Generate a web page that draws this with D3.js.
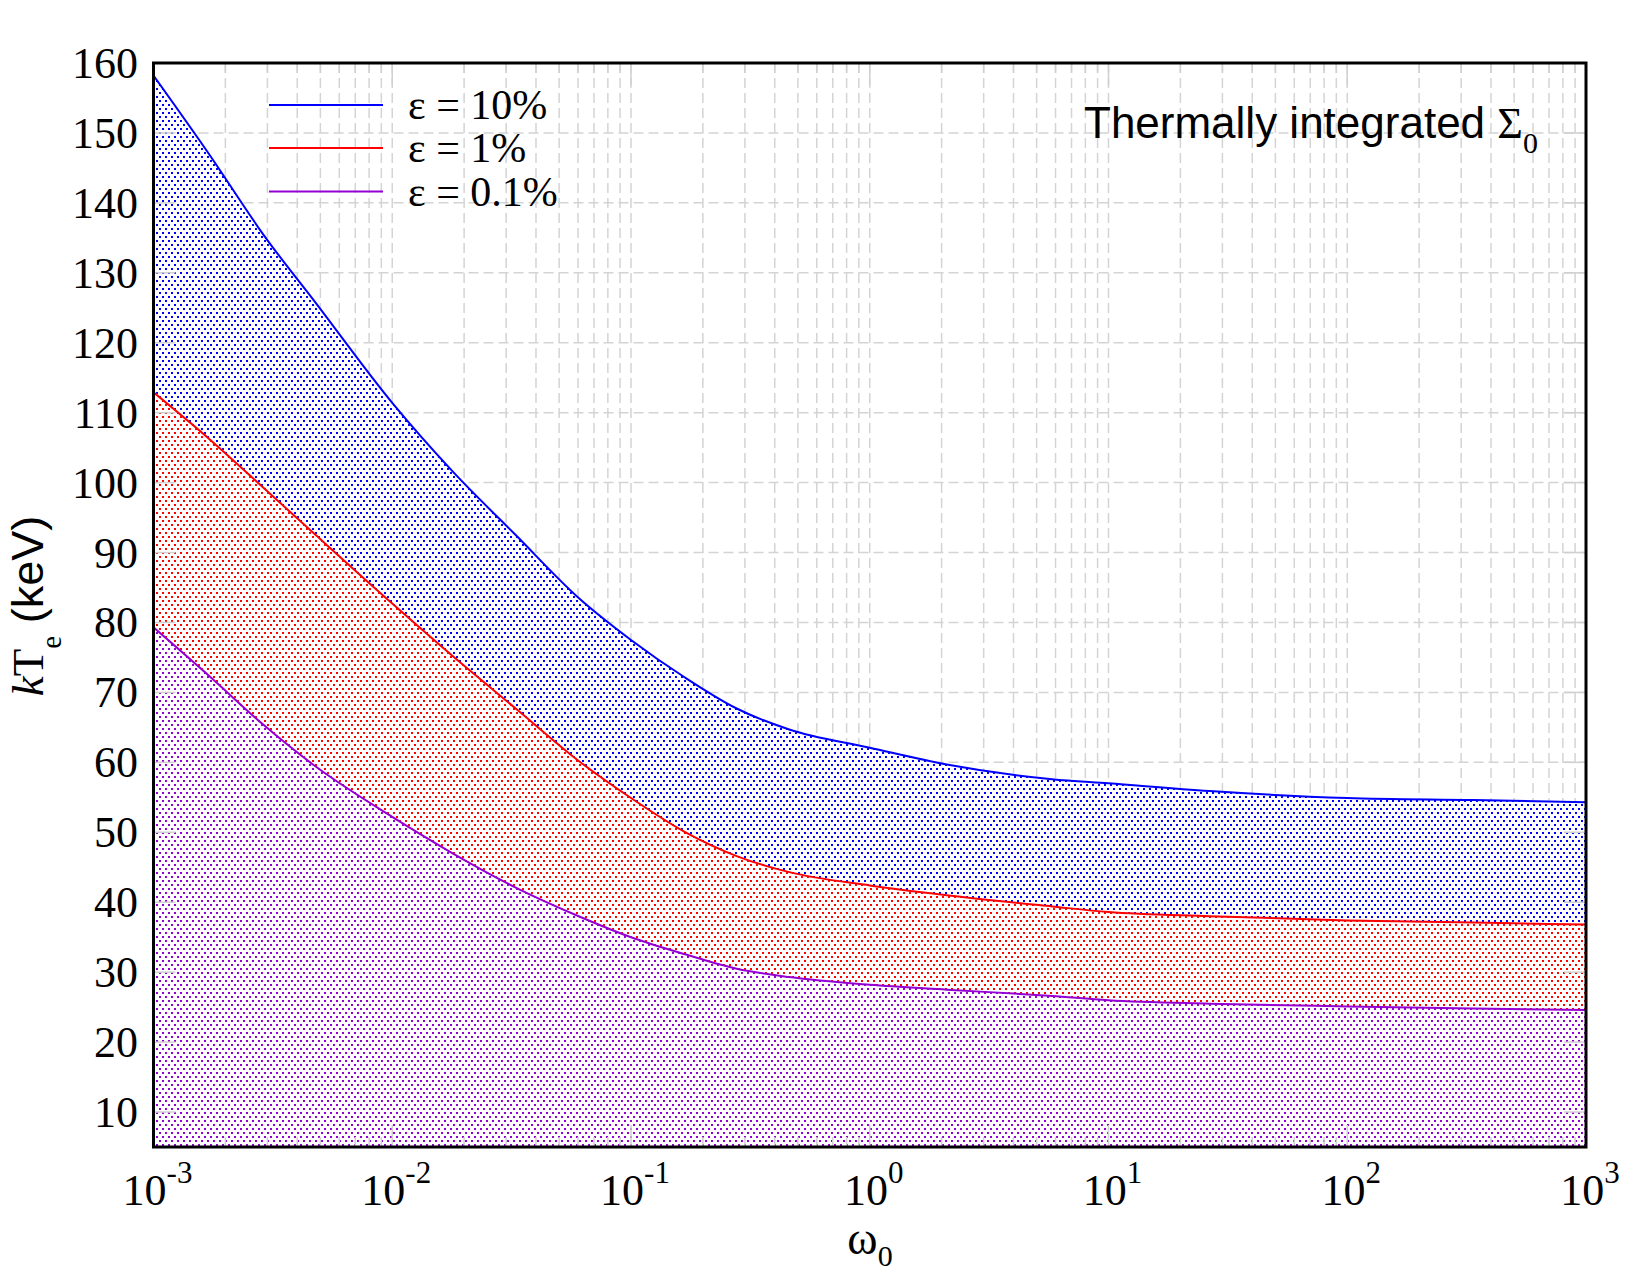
<!DOCTYPE html>
<html>
<head>
<meta charset="utf-8">
<script src="https://cdn.jsdelivr.net/npm/d3@7"></script>
<style>
  body { margin: 0; background: #fff; }
  svg { display: block; }
</style>
</head>
<body>
<div id="chart_wrapper"></div>
<script>
// omega_0 sample points and kT_e (keV)
const omega = [0.001, 0.00173, 0.00288, 0.00478, 0.01, 0.0179, 0.0329, 0.0604, 0.1, 0.167,
               0.277, 0.46, 1, 2.1, 5.8, 10, 26.5, 100, 338, 1000]
const kTe10 = [158.2, 146.7, 135.5, 125.7, 111.4, 101.6, 92.5, 83.5, 77.5, 72.2,
               67.7, 64.7, 62.1, 59.7, 57.6, 57.0, 55.9, 54.9, 54.6, 54.3]
const kTe1 = [112.9, 106.1, 99.3, 92.5, 82.7, 75.2, 67.7, 60.2, 54.9, 50.1,
              46.6, 44.3, 42.4, 41.0, 39.4, 38.6, 38.0, 37.4, 37.1, 36.8]
const kTe01 = [79.3, 72.2, 65.4, 59.4, 52.2, 47.0, 42.1, 38.0, 35.0, 32.6,
               30.5, 29.3, 28.2, 27.5, 26.6, 26.0, 25.5, 25.1, 24.8, 24.6]

const seriesNames = ['ε = 10%', 'ε = 1%', 'ε = 0.1%']
const seriesColors = ['#0000ff', '#ff0000', '#9400d3']
const yTicks = [10, 20, 30, 40, 50, 60, 70, 80, 90, 100, 110, 120, 130, 140, 150, 160]
const xDecades = [-3, -2, -1, 0, 1, 2, 3]

const W = 1650, H = 1275
const plot = {left: 153.5, right: 1586, top: 63, bottom: 1147}

const svg = d3.select('#chart_wrapper').append('svg')
    .attr('width', W)
    .attr('height', H)

svg.append('rect').attr('width', W).attr('height', H).attr('fill', '#fff')

const x = d3.scaleLog().domain([1e-3, 1e3]).range([plot.left, plot.right])
const y = d3.scaleLinear().domain([5, 160]).range([plot.bottom, plot.top])

// minor log positions
var minorX = []
xDecades.slice(0, -1).forEach(e => {
    for (var k = 2; k <= 9; k++) minorX.push(k * Math.pow(10, e))
})
const majorX = xDecades.map(e => Math.pow(10, e))

// dotted fill patterns
const defs = svg.append('defs')
seriesColors.forEach((c, i) => {
    const p = defs.append('pattern')
        .attr('id', 'dots' + i)
        .attr('patternUnits', 'userSpaceOnUse')
        .attr('width', 6).attr('height', 8)
    p.append('rect').attr('width', 6).attr('height', 8).attr('fill', '#fff')
    p.append('rect').attr('x', 0).attr('y', 0).attr('width', 2).attr('height', 2).attr('fill', c)
    p.append('rect').attr('x', 3).attr('y', 4).attr('width', 2).attr('height', 2).attr('fill', c)
})
defs.append('clipPath').attr('id', 'plotclip')
    .append('rect')
    .attr('x', plot.left).attr('y', plot.top)
    .attr('width', plot.right - plot.left).attr('height', plot.bottom - plot.top)

// grid
const grid = svg.append('g')
    .attr('stroke', '#d4d4d4')
    .attr('stroke-width', 1.5)
    .attr('stroke-dasharray', '10,5')
grid.selectAll('line.vx')
    .data(minorX.concat(majorX))
    .join('line')
    .attr('x1', d => x(d)).attr('x2', d => x(d))
    .attr('y1', plot.top).attr('y2', plot.bottom)
grid.selectAll('line.hy')
    .data(yTicks)
    .join('line')
    .attr('x1', plot.left).attr('x2', plot.right)
    .attr('y1', d => y(d)).attr('y2', d => y(d))

// areas between curves
const upper = [kTe10, kTe1, kTe01]
const lower = [kTe1, kTe01, null]
const areas = svg.append('g').attr('clip-path', 'url(#plotclip)')
upper.forEach((vals, i) => {
    const area = d3.area()
        .x((d, j) => x(omega[j]))
        .y1((d, j) => y(vals[j]))
        .y0((d, j) => lower[i] ? y(lower[i][j]) : plot.bottom)
        .curve(d3.curveMonotoneX)
    areas.append('path')
        .datum(omega)
        .attr('d', area)
        .attr('fill', 'url(#dots' + i + ')')
})

// curves
upper.forEach((vals, i) => {
    const line = d3.line()
        .x((d, j) => x(omega[j]))
        .y((d, j) => y(vals[j]))
        .curve(d3.curveMonotoneX)
    areas.append('path')
        .datum(omega)
        .attr('d', line)
        .attr('fill', 'none')
        .attr('stroke', seriesColors[i])
        .attr('stroke-width', 2)
})

// light grey tick marks drawn inside the frame
const ticks = svg.append('g').attr('stroke', '#d0d0d0').attr('stroke-width', 1.5)
const tickSets = [{v: majorX, len: 22}, {v: minorX, len: 10}]
tickSets.forEach(t => {
    ticks.selectAll(null).data(t.v).join('line')
        .attr('x1', d => x(d)).attr('x2', d => x(d))
        .attr('y1', plot.bottom).attr('y2', plot.bottom - t.len)
    ticks.selectAll(null).data(t.v).join('line')
        .attr('x1', d => x(d)).attr('x2', d => x(d))
        .attr('y1', plot.top).attr('y2', plot.top + t.len)
})
ticks.selectAll(null).data(yTicks).join('line')
    .attr('x1', plot.left).attr('x2', plot.left + 22)
    .attr('y1', d => y(d)).attr('y2', d => y(d))
ticks.selectAll(null).data(yTicks).join('line')
    .attr('x1', plot.right).attr('x2', plot.right - 22)
    .attr('y1', d => y(d)).attr('y2', d => y(d))

// frame
svg.append('rect')
    .attr('x', plot.left).attr('y', plot.top)
    .attr('width', plot.right - plot.left).attr('height', plot.bottom - plot.top)
    .attr('fill', 'none')
    .attr('stroke', '#000')
    .attr('stroke-width', 3)

const serif = '"Liberation Serif", "Times New Roman", serif'
const sans = '"Liberation Sans", Arial, sans-serif'

// y tick labels
svg.append('g').selectAll('text')
    .data(yTicks)
    .join('text')
    .attr('x', 138)
    .attr('y', d => y(d) + 15)
    .attr('text-anchor', 'end')
    .attr('font-family', serif)
    .attr('font-size', 44)
    .text(d => d)

// x tick labels 10^n
const xl = svg.append('g').selectAll('text')
    .data(xDecades)
    .join('text')
    .attr('x', d => x(Math.pow(10, d)) + 4)
    .attr('y', 1205)
    .attr('text-anchor', 'middle')
    .attr('font-family', serif)
    .attr('font-size', 44)
xl.append('tspan').text('10')
xl.append('tspan').attr('font-size', 31).attr('dy', -22).text(d => d)

// axis titles
const xt = svg.append('text')
    .attr('x', 870).attr('y', 1254)
    .attr('text-anchor', 'middle')
    .attr('font-family', serif)
xt.append('tspan').attr('font-size', 46).text('ω')
xt.append('tspan').attr('font-size', 30).attr('dy', 12).text('0')

const yt = svg.append('text')
    .attr('transform', 'translate(43,606) rotate(-90)')
    .attr('text-anchor', 'middle')
    .attr('font-size', 45)
yt.append('tspan').attr('font-family', serif).attr('font-style', 'italic').text('k')
yt.append('tspan').attr('font-family', serif).text('T')
yt.append('tspan').attr('font-family', serif).attr('font-size', 29).attr('dy', 18).text('e')
yt.append('tspan').attr('font-family', sans).attr('dy', -18).text(' (keV)')

// annotation
const note = svg.append('text')
    .attr('x', 1084).attr('y', 138)
    .attr('font-size', 44)
note.append('tspan').attr('font-family', sans).text('Thermally integrated ')
note.append('tspan').attr('font-family', serif).text('Σ')
note.append('tspan').attr('font-family', serif).attr('font-size', 30).attr('dy', 15).text('0')

// legend
const legend = svg.append('g')
const legendY = [105, 148, 191.5]
seriesNames.forEach((name, i) => {
    legend.append('line')
        .attr('x1', 269).attr('x2', 383)
        .attr('y1', legendY[i]).attr('y2', legendY[i])
        .attr('stroke', seriesColors[i])
        .attr('stroke-width', 2)
    legend.append('text')
        .attr('x', 408).attr('y', legendY[i] + 14)
        .attr('font-family', serif)
        .attr('font-size', 42)
        .text(name)
})
</script>
</body>
</html>
